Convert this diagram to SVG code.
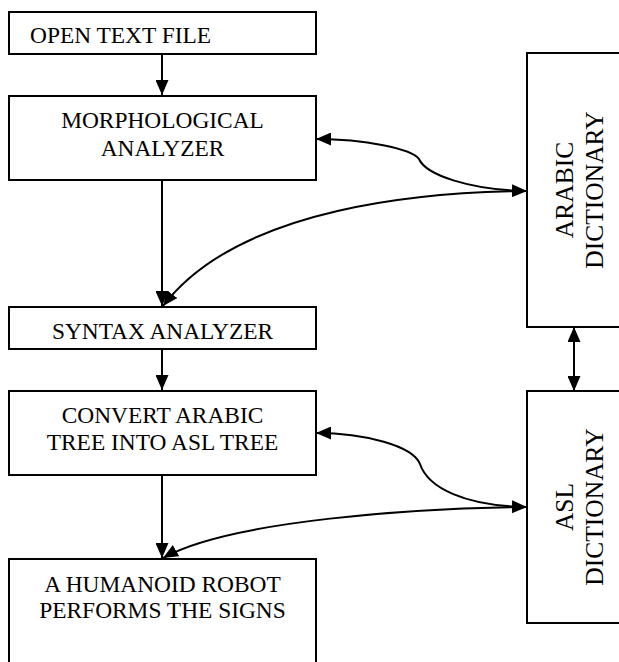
<svg xmlns="http://www.w3.org/2000/svg" width="619" height="662" viewBox="0 0 619 662">
<style>
.box{fill:#fff;stroke:#000;stroke-width:2}
.t{font-family:'Liberation Serif','DejaVu Serif',serif;font-size:23.4px;fill:#000;text-anchor:middle}
.d{font-family:'Liberation Serif','DejaVu Serif',serif;font-size:25.5px;fill:#000;text-anchor:middle}
.c{fill:none;stroke:#000;stroke-width:2}
</style>
<defs>
<marker id="ah" markerUnits="userSpaceOnUse" markerWidth="15" markerHeight="13" refX="15" refY="6.5" orient="auto-start-reverse" viewBox="0 0 15 13">
<path d="M0,0 L15,6.5 L0,13 Z" fill="#000"/>
</marker>
</defs>
<rect width="619" height="662" fill="#fff"/>
<g id="connectors">
<path class="c" d="M162,54 V95" marker-end="url(#ah)"/>
<path class="c" d="M162,180 V306" marker-end="url(#ah)"/>
<path class="c" d="M162,349 V390" marker-end="url(#ah)"/>
<path class="c" d="M162,475 V558" marker-end="url(#ah)"/>
<path class="c" d="M574,327 V391" marker-start="url(#ah)" marker-end="url(#ah)"/>
<path class="c" d="M316,139 C365,139 412,149 419,159 C426,175 470,190 527,191" marker-start="url(#ah)" marker-end="url(#ah)"/>
<path class="c" d="M527,191 C430,192 240,205 163,306" marker-end="url(#ah)"/>
<path class="c" d="M316,433 C365,433 413,446 420,464 C428,488 465,506 527,507" marker-start="url(#ah)" marker-end="url(#ah)"/>
<path class="c" d="M527,507 C420,508 230,520 163,558" marker-end="url(#ah)"/>
</g>
<g id="open-text-file">
<rect class="box" x="9" y="12" width="307" height="42"/>
<text class="t" x="30" y="43" font-family="Liberation Serif" style="text-anchor:start">OPEN TEXT FILE</text>
</g>
<g id="morphological-analyzer">
<rect class="box" x="9" y="96" width="307" height="84"/>
<text class="t" x="162.5" y="128">MORPHOLOGICAL</text>
<text class="t" x="162.5" y="156">ANALYZER</text>
</g>
<g id="syntax-analyzer">
<rect class="box" x="9" y="307" width="307" height="42"/>
<text class="t" x="162.5" y="339">SYNTAX ANALYZER</text>
</g>
<g id="convert-tree">
<rect class="box" x="9" y="391" width="307" height="84"/>
<text class="t" x="162.5" y="423">CONVERT ARABIC</text>
<text class="t" x="162.5" y="450">TREE INTO ASL TREE</text>
</g>
<g id="humanoid-robot">
<rect class="box" x="9" y="559" width="307" height="130"/>
<text class="t" x="162.5" y="592">A HUMANOID ROBOT</text>
<text class="t" x="162.5" y="618">PERFORMS THE SIGNS</text>
</g>
<g id="arabic-dictionary">
<rect class="box" x="527" y="53" width="120" height="274"/>
<text class="d" transform="translate(573,190) rotate(-90)">ARABIC</text>
<text class="d" transform="translate(603,190) rotate(-90)">DICTIONARY</text>
</g>
<g id="asl-dictionary">
<rect class="box" x="527" y="391" width="120" height="232"/>
<text class="d" transform="translate(573,507) rotate(-90)">ASL</text>
<text class="d" transform="translate(603,507) rotate(-90)">DICTIONARY</text>
</g>
</svg>
